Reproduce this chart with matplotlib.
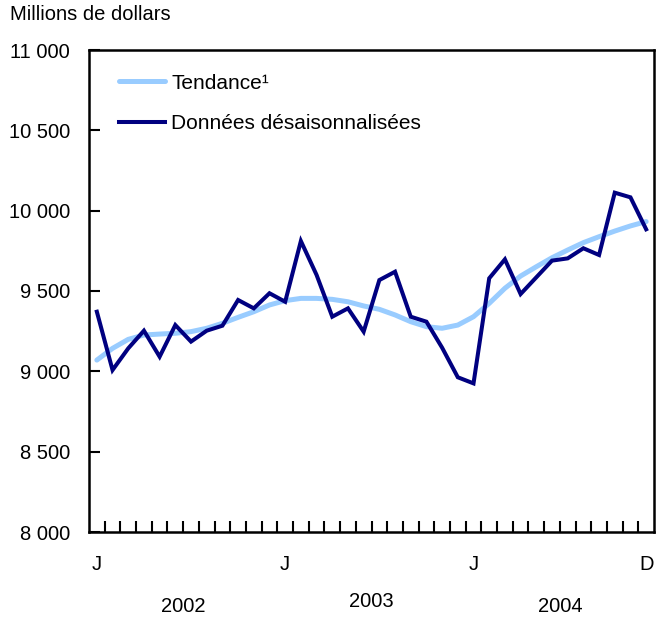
import numpy as np
import matplotlib
matplotlib.use("Agg")
from matplotlib import pyplot as plt
from matplotlib.ticker import FuncFormatter

plt.rcParams['font.family'] = ['Liberation Sans', 'DejaVu Sans']

# monthly values, Jan 2002 .. Dec 2004 (millions of dollars)
trend = [9070, 9143, 9199, 9226, 9232, 9237, 9247, 9268, 9299, 9336, 9371, 9413,
         9440, 9454, 9454, 9448, 9433, 9407, 9386, 9351, 9309, 9278, 9268, 9288,
         9340, 9423, 9517, 9593, 9651, 9707, 9755, 9801, 9838, 9873, 9905, 9932]
seas_adj = [9371, 9008, 9143, 9253, 9091, 9288, 9185, 9253, 9284, 9444, 9392, 9486,
            9433, 9811, 9600, 9340, 9392, 9247, 9568, 9620, 9340, 9309, 9147, 8963,
            8925, 9579, 9697, 9481, 9585, 9689, 9703, 9766, 9724, 10112, 10083, 9884]
month_labels = {0: "J", 12: "J", 24: "J", 35: "D"}
years = ["2002", "2003", "2004"]

fig = plt.figure(figsize=(6.57, 6.17), dpi=100)
ax = fig.add_axes([89 / 657, 1 - 532 / 617, 565 / 657, 482 / 617])

x = np.arange(len(trend))
ax.plot(x, trend, color="#99ccff", lw=3.6, solid_capstyle="round", label="Tendance\u00b9")
ax.plot(x, seas_adj, color="#000080", lw=2.9, solid_joinstyle="miter", label="Données désaisonnalisées")

ax.set_xlim(-0.5, 35.5)
ax.set_ylim(8000, 11000)
ax.set_yticks(np.arange(8000, 11001, 500))
ax.yaxis.set_major_formatter(FuncFormatter(lambda v, p: f"{int(v):,}".replace(",", " ")))
ax.set_xticks(np.arange(0.5, 35, 1))
ax.set_xticklabels([])
ax.tick_params(axis="both", direction="in", length=8, width=1.5, labelsize=14.5, colors="black")
ax.tick_params(axis="y", pad=13.5)
for s in ax.spines.values():
    s.set_linewidth(1.8)

for i, lab in month_labels.items():
    ax.text(i, -0.068, lab, transform=ax.get_xaxis_transform(), ha="center", va="center", fontsize=14.5)
for k, yr in enumerate(years):
    yoff = -0.145 if k == 1 else -0.155
    ax.text(12 * k + 5.5, yoff, yr, transform=ax.get_xaxis_transform(), ha="center", va="center", fontsize=14.5)

fig.text(10 / 657, 1 - 15 / 617, "Millions de dollars", ha="left", va="center", fontsize=14.5)

ax.legend(loc="upper left", bbox_to_anchor=(0.02, 0.99), frameon=False, fontsize=15,
          handlelength=2.2, handletextpad=0.3, labelspacing=1.05)

fig.savefig("out.png", dpi=100)
